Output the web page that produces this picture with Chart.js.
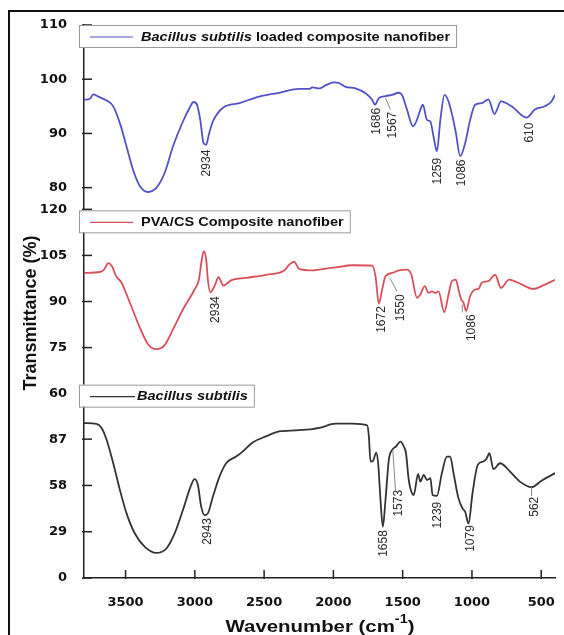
<!DOCTYPE html>
<html>
<head>
<meta charset="utf-8">
<script src="https://cdn.jsdelivr.net/npm/chart.js@4.4.0/dist/chart.umd.min.js"></script>
<style>
  html, body { margin: 0; padding: 0; background: #fff; }
</style>
</head>
<body>
<canvas id="ftirChart" width="564" height="635"></canvas>
<script>
// axis ticks
const xTickValues = [3500, 3000, 2500, 2000, 1500, 1000, 500];
const ticksTop = [80, 90, 100, 110];
const ticksMid = [60, 75, 90, 105, 120];
const ticksBot = [0, 29, 58, 87];

// Bacillus subtilis loaded composite nanofiber (top)
const wnLoaded = [3800, 3757, 3733, 3697, 3625, 3589, 3541, 3493, 3446, 3397, 3338, 3277, 3218, 3158, 3086, 3038,
  3009, 2985, 2961, 2937, 2918, 2899, 2870, 2799, 2678, 2535, 2391, 2247, 2175, 2152, 2103, 2055, 1996, 1960,
  1911, 1840, 1768, 1720, 1701, 1672, 1624, 1576, 1528, 1505, 1469, 1425, 1397, 1372, 1354, 1325, 1300, 1277,
  1253, 1228, 1198, 1169, 1140, 1116, 1085, 1049, 1013, 977, 929, 881, 838, 790, 714, 606, 546, 474, 426, 400];
const tLoaded = [96.2, 96.4, 97.2, 96.8, 95.9, 95.0, 91.9, 87.6, 83.3, 80.3, 79.2, 80.0, 82.7, 87.6, 92.2, 94.7,
  95.8, 95.3, 92.5, 88.2, 87.9, 89.8, 92.2, 94.7, 95.6, 96.8, 97.5, 98.2, 98.2, 98.5, 98.3, 98.9, 99.4, 99.3,
  98.6, 98.3, 97.4, 96.2, 95.3, 96.5, 96.9, 97.1, 97.5, 97.1, 94.4, 91.3, 92.5, 94.4, 95.3, 92.5, 92.2, 89.4,
  86.7, 92.5, 97.1, 95.9, 93.1, 90.1, 85.8, 88.2, 92.5, 95.3, 95.6, 96.3, 93.6, 95.9, 95.0, 92.9, 94.4, 95.0, 95.9, 97.1];

// PVA/CS Composite nanofiber (middle)
const wnPvaCs = [3800, 3685, 3656, 3625, 3597, 3570, 3529, 3469, 3397, 3338, 3277, 3218, 3158, 3086, 3002, 2971,
  2950, 2935, 2918, 2906, 2889, 2858, 2829, 2794, 2738, 2630, 2487, 2355, 2319, 2283, 2247, 2152, 2103, 1983,
  1864, 1720, 1696, 1672, 1648, 1624, 1576, 1528, 1469, 1437, 1397, 1372, 1341, 1313, 1289, 1264, 1241, 1200,
  1169, 1145, 1116, 1097, 1077, 1061, 1042, 1013, 977, 953, 929, 881, 833, 790, 732, 666, 558, 474, 400];
const tPvaCs = [99.3, 99.6, 100.4, 102.5, 101.4, 98.4, 96.1, 89.6, 81.5, 76.1, 74.5, 75.8, 80.9, 87.4, 93.9, 97.1,
  103.6, 106.3, 103.6, 97.1, 93.0, 95.0, 97.9, 95.2, 96.9, 97.7, 98.7, 100.1, 102.0, 103.0, 100.6, 100.1, 100.4, 101.1,
  101.8, 101.7, 98.2, 89.3, 93.9, 98.2, 99.3, 100.1, 100.4, 98.7, 91.2, 92.3, 95.0, 92.8, 93.3, 92.8, 93.3, 86.5,
  92.3, 96.6, 97.1, 93.9, 90.6, 89.6, 86.9, 91.7, 93.9, 94.1, 96.1, 96.6, 98.7, 94.4, 97.1, 96.1, 94.1, 95.5, 97.1];

// Bacillus subtilis (bottom)
const wnBacillus = [3800, 3709, 3673, 3637, 3589, 3541, 3493, 3433, 3361, 3277, 3205, 3146, 3086, 3026, 3002, 2978,
  2954, 2930, 2906, 2870, 2822, 2774, 2702, 2655, 2583, 2487, 2391, 2271, 2152, 2103, 1983, 1864, 1756, 1744,
  1732, 1713, 1691, 1677, 1660, 1643, 1624, 1600, 1576, 1548, 1516, 1492, 1476, 1456, 1420, 1389, 1372, 1348,
  1325, 1300, 1284, 1253, 1217, 1181, 1157, 1133, 1097, 1068, 1049, 1025, 996, 958, 917, 893, 874, 845, 797,
  725, 654, 570, 498, 400];
const tBacillus = [97.1, 96.5, 94.0, 86.6, 71.9, 55.2, 40.5, 27.9, 19.5, 15.7, 18.5, 27.9, 42.6, 58.3, 61.9, 58.3,
  44.7, 39.4, 40.5, 50.9, 63.5, 71.9, 76.1, 79.2, 84.9, 88.7, 91.8, 92.5, 93.3, 94.0, 96.7, 96.7, 95.6, 88.7,
  73.0, 73.6, 78.6, 71.9, 48.9, 32.1, 48.9, 74.0, 80.3, 82.4, 85.5, 82.4, 78.2, 61.4, 52.0, 65.2, 60.4, 64.6,
  61.4, 62.5, 52.0, 51.4, 65.7, 76.1, 76.1, 65.7, 49.9, 43.6, 41.5, 34.2, 53.1, 70.9, 73.0, 75.1, 78.2, 68.2, 71.9,
  66.7, 60.4, 56.9, 61.0, 65.7];

// peak labels: text, wavenumber, transmittance at the top of the label
const peaksLoaded = [['2934', 2914, 87.0], ['1686', 1691, 94.7], ['1567', 1571, 94.0],
  ['1259', 1248, 85.5], ['1086', 1077, 85.2], ['610', 581, 92.0]];
const peaksPvaCs = [['2934', 2846, 91.7], ['1672', 1648, 88.5], ['1550', 1516, 92.3], ['1086', 1001, 85.8]];
const peaksBacillus = [['2943', 2906, 37.5], ['1658', 1636, 30.0], ['1573', 1528, 55.2],
  ['1239', 1248, 47.8], ['1079', 1009, 33.1], ['562', 546, 50.9]];

// leader lines: wn1, t1, wn2, t2
const leadersLoaded = [[1624, 96.5, 1588, 94.4]];
const leadersPvaCs = [[1593, 97.7, 1541, 93.3], [1070, 89.0, 1070, 86.4]];
const leadersBacillus = [[1571, 80.3, 1552, 55.2], [570, 56.9, 570, 51.4]];

// legend text parts: [text, italic]
const legendLoaded = [['Bacillus subtilis', true], [' loaded composite nanofiber', false]];
const legendPvaCs = [['PVA/CS Composite nanofiber', false]];
const legendBacillus = [['Bacillus subtilis', true]];

const colors = { loaded: '#5252c4', pvacs: '#d9505a', bacillus: '#333333' };
const SANS = '"Liberation Sans", Arial, sans-serif';
const tickFont = { family: '"DejaVu Sans", sans-serif', size: 13, weight: 'bold' };

function toPoints(xs, ys) {
  return xs.map((x, i) => ({ x: x, y: ys[i] }));
}

function yScale(min, max, ticks) {
  return {
    type: 'linear',
    position: 'left',
    stack: 'panels',
    stackWeight: 1,
    min: min,
    max: max,
    grid: { display: false },
    border: { display: true, color: '#222', width: 1.5 },
    ticks: { font: tickFont, color: '#111', padding: 9, autoSkip: false, callback: v => String(v) },
    afterBuildTicks: s => { s.ticks = ticks.map(v => ({ value: v })); },
    afterFit: s => { s.width = 84; }
  };
}

// draws text parts with a horizontal stretch, returns width
function drawParts(ctx, parts, x, y, sx, draw) {
  ctx.save();
  ctx.translate(x, y);
  ctx.scale(sx, 1);
  let cx = 0;
  parts.forEach(p => {
    ctx.font = p.font;
    if (draw) ctx.fillText(p.text, cx, p.dy || 0);
    cx += ctx.measureText(p.text).width;
  });
  ctx.restore();
  return cx * sx;
}

const panels = [
  { scale: 'yTop', peaks: peaksLoaded, leaders: leadersLoaded, legend: legendLoaded, color: colors.loaded, boxDy: 0 },
  { scale: 'yMid', peaks: peaksPvaCs, leaders: leadersPvaCs, legend: legendPvaCs, color: colors.pvacs, boxDy: 1 },
  { scale: 'yBot', peaks: peaksBacillus, leaders: leadersBacillus, legend: legendBacillus, color: colors.bacillus, boxDy: -9 }
];

const decor = {
  id: 'decor',
  beforeDraw(chart) {
    const ctx = chart.ctx;
    ctx.save();
    ctx.fillStyle = '#fff';
    ctx.fillRect(0, 0, chart.width, chart.height);
    ctx.fillStyle = '#111';
    ctx.fillRect(8, 10, chart.width - 8, 2);
    ctx.fillRect(8, 10, 2, chart.height - 10);
    ctx.restore();
  },
  afterDraw(chart) {
    const ctx = chart.ctx;
    const xs = chart.scales.x;
    ctx.save();

    // inward tick marks
    ctx.strokeStyle = '#222';
    ctx.lineWidth = 1.5;
    panels.forEach(p => {
      const s = chart.scales[p.scale];
      s.ticks.forEach(t => {
        const py = s.getPixelForValue(t.value);
        ctx.beginPath();
        ctx.moveTo(s.right - 2, py);
        ctx.lineTo(s.right + 8, py);
        ctx.stroke();
      });
    });
    xs.ticks.forEach(t => {
      const px = xs.getPixelForValue(t.value);
      ctx.beginPath();
      ctx.moveTo(px, xs.top + 1);
      ctx.lineTo(px, xs.top - 8);
      ctx.stroke();
    });

    // peak labels and leaders
    panels.forEach(p => {
      const s = chart.scales[p.scale];
      ctx.strokeStyle = '#888';
      ctx.lineWidth = 1;
      p.leaders.forEach(l => {
        ctx.beginPath();
        ctx.moveTo(xs.getPixelForValue(l[0]), s.getPixelForValue(l[1]));
        ctx.lineTo(xs.getPixelForValue(l[2]), s.getPixelForValue(l[3]));
        ctx.stroke();
      });
      ctx.fillStyle = '#2a2a2a';
      ctx.font = '12px ' + SANS;
      ctx.textAlign = 'right';
      ctx.textBaseline = 'middle';
      p.peaks.forEach(k => {
        ctx.save();
        ctx.translate(xs.getPixelForValue(k[1]), s.getPixelForValue(k[2]));
        ctx.rotate(-Math.PI / 2);
        ctx.fillText(k[0], 0, 0);
        ctx.restore();
      });
    });

    // legend boxes
    ctx.textAlign = 'left';
    ctx.textBaseline = 'middle';
    panels.forEach(p => {
      const s = chart.scales[p.scale];
      const top = s.top + p.boxDy;
      const h = 22;
      const parts = p.legend.map(l => ({ text: l[0], font: (l[1] ? 'italic ' : '') + 'bold 13px ' + SANS }));
      const textX = p.scale === 'yBot' ? 137 : 141;
      const w = drawParts(ctx, parts, 0, 0, 1.12, false);
      const left = 79;
      const right = textX + w + 6;
      ctx.fillStyle = '#fff';
      ctx.fillRect(left, top, right - left, h);
      ctx.strokeStyle = '#999';
      ctx.lineWidth = 1;
      ctx.strokeRect(left + 0.5, top + 0.5, right - left, h);
      ctx.strokeStyle = p.color;
      ctx.lineWidth = 1.2;
      ctx.beginPath();
      ctx.moveTo(90, top + h / 2 + 1);
      ctx.lineTo(p.scale === 'yBot' ? 135 : 133, top + h / 2 + 1);
      ctx.stroke();
      ctx.fillStyle = '#111';
      drawParts(ctx, parts, textX, top + h / 2 + 1, 1.12, true);
    });

    // axis titles
    ctx.fillStyle = '#111';
    ctx.save();
    ctx.translate(31, 313);
    ctx.rotate(-Math.PI / 2);
    ctx.textAlign = 'center';
    ctx.textBaseline = 'middle';
    ctx.font = 'bold 18px ' + SANS;
    ctx.fillText('Transmittance (%)', 0, 0);
    ctx.restore();

    ctx.textAlign = 'left';
    ctx.textBaseline = 'alphabetic';
    const xt = [
      { text: 'Wavenumber (cm', font: 'bold 17px ' + SANS },
      { text: '-1', font: 'bold 12px ' + SANS, dy: -9 },
      { text: ')', font: 'bold 17px ' + SANS }
    ];
    const tw = drawParts(ctx, xt, 0, 0, 1.2, false);
    drawParts(ctx, xt, 320 - tw / 2, 632, 1.2, true);

    ctx.restore();
  }
};

const lineStyle = { borderWidth: 1.8, pointRadius: 0, cubicInterpolationMode: 'monotone', fill: false };

new Chart(document.getElementById('ftirChart').getContext('2d'), {
  type: 'line',
  data: {
    datasets: [
      Object.assign({ label: 'Bacillus subtilis loaded composite nanofiber', data: toPoints(wnLoaded, tLoaded),
        yAxisID: 'yTop', borderColor: colors.loaded }, lineStyle),
      Object.assign({ label: 'PVA/CS Composite nanofiber', data: toPoints(wnPvaCs, tPvaCs),
        yAxisID: 'yMid', borderColor: colors.pvacs }, lineStyle),
      Object.assign({ label: 'Bacillus subtilis', data: toPoints(wnBacillus, tBacillus),
        yAxisID: 'yBot', borderColor: colors.bacillus }, lineStyle)
    ]
  },
  options: {
    responsive: false,
    animation: false,
    events: [],
    layout: { padding: { top: 25, right: 7, bottom: 0, left: 0 } },
    plugins: { legend: { display: false }, tooltip: { enabled: false } },
    scales: {
      x: {
        type: 'linear',
        reverse: true,
        min: 400,
        max: 3800,
        grid: { display: false },
        border: { display: true, color: '#222', width: 1.5 },
        ticks: { font: tickFont, color: '#111', padding: 9, maxRotation: 0, autoSkip: false, callback: v => String(v) },
        afterBuildTicks: s => { s.ticks = xTickValues.map(v => ({ value: v })); },
        afterFit: s => { s.height = 57; }
      },
      yBot: yScale(0, 115.5, ticksBot),
      yMid: yScale(60, 120, ticksMid),
      yTop: yScale(76, 110, ticksTop)
    }
  },
  plugins: [decor]
});
</script>
</body>
</html>
